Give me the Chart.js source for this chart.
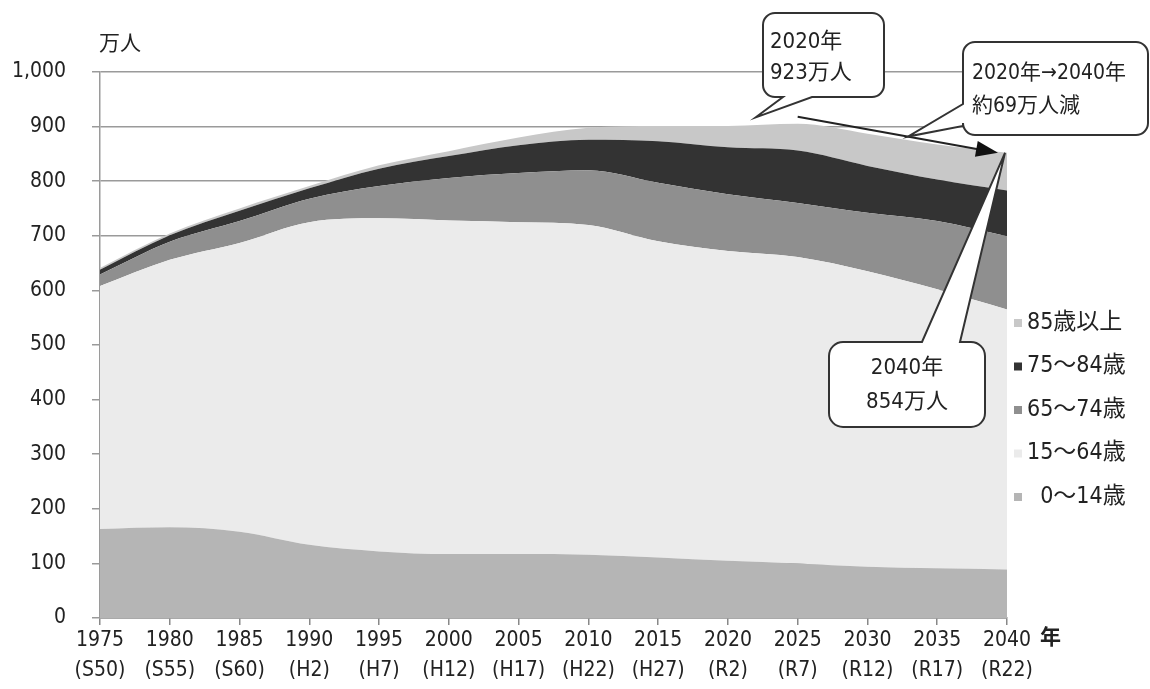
<!DOCTYPE html>
<html lang="ja">
<head>
<meta charset="utf-8">
<script src="https://cdn.jsdelivr.net/npm/chart.js@4.4.1/dist/chart.umd.min.js"></script>
<style>
html, body { margin: 0; padding: 0; background: #fff; }
#wrap { width: 1150px; height: 689px; }
</style>
</head>
<body>
<div id="wrap"><canvas id="chart" width="1150" height="689"></canvas></div>
<script>
// Data (万人)
const years = ['1975', '1980', '1985', '1990', '1995', '2000', '2005', '2010', '2015', '2020', '2025', '2030', '2035', '2040'];
const eras = ['(S50)', '(S55)', '(S60)', '(H2)', '(H7)', '(H12)', '(H17)', '(H22)', '(H27)', '(R2)', '(R7)', '(R12)', '(R17)', '(R22)'];
const age0to14 = [163, 166, 158, 134, 122, 117, 117, 116, 111, 105, 100, 94, 91, 89];
const age15to64 = [445, 490, 529, 591, 610, 611, 608, 604, 579, 567, 561, 541, 511, 476];
const age65to74 = [21, 33, 40, 43, 59, 78, 90, 100, 107, 104, 99, 107, 125, 134];
const age75to84 = [9, 12, 19, 19, 32, 40, 51, 56, 76, 86, 96, 86, 76, 84];
const age85plus = [3, 3, 4, 4, 6, 9, 14, 22, 28, 39, 49, 59, 64, 69];

const seriesNames = ['  0～14歳', '15～64歳', '65～74歳', '75～84歳', '85歳以上'];
const seriesValues = [age0to14, age15to64, age65to74, age75to84, age85plus];
const seriesColors = ['#b5b5b5', '#ebebeb', '#8f8f8f', '#333333', '#c8c8c8'];

const yMin = 0, yMax = 1000, yStep = 100;

const FONT = '"Liberation Sans Narrow", "DejaVu Sans Condensed", "Noto Sans CJK JP", sans-serif';

// totals for anchoring the callouts
const totals = years.map((_, i) => seriesValues.reduce((s, arr) => s + arr[i], 0));

const datasets = seriesValues.map((vals, i) => ({
    label: seriesNames[i],
    data: vals,
    backgroundColor: seriesColors[i],
    borderWidth: 0,
    pointRadius: 0,
    fill: i === 0 ? 'origin' : '-1',
    cubicInterpolationMode: 'monotone'
}));

// rounded box with a pointed tail on one side
function calloutPath(ctx, b, t) {
    const { x, y, w, h, r } = b;
    ctx.beginPath();
    ctx.moveTo(x + r, y);
    if (t.side === 'top') {
        ctx.lineTo(t.a, y); ctx.lineTo(t.tip.x, t.tip.y); ctx.lineTo(t.b, y);
    }
    ctx.lineTo(x + w - r, y);
    ctx.arcTo(x + w, y, x + w, y + r, r);
    ctx.lineTo(x + w, y + h - r);
    ctx.arcTo(x + w, y + h, x + w - r, y + h, r);
    if (t.side === 'bottom') {
        ctx.lineTo(t.b, y + h); ctx.lineTo(t.tip.x, t.tip.y); ctx.lineTo(t.a, y + h);
    }
    ctx.lineTo(x + r, y + h);
    ctx.arcTo(x, y + h, x, y + h - r, r);
    if (t.side === 'left') {
        ctx.lineTo(x, t.b); ctx.lineTo(t.tip.x, t.tip.y); ctx.lineTo(x, t.a);
    }
    ctx.lineTo(x, y + r);
    ctx.arcTo(x, y, x + r, y, r);
    ctx.closePath();
    ctx.fillStyle = '#fff';
    ctx.fill();
    ctx.lineWidth = 2;
    ctx.strokeStyle = '#333';
    ctx.stroke();
}

function drawLines(ctx, lines, x, y, gap, align) {
    ctx.textAlign = align;
    lines.forEach((s, i) => ctx.fillText(s, x, y + i * gap));
}

const overlay = {
    id: 'overlay',
    afterDraw(chart) {
        const { ctx, scales: { x, y } } = chart;
        const last = years.length - 1;
        ctx.save();
        ctx.fillStyle = '#222';
        ctx.textBaseline = 'middle';

        // unit labels
        ctx.font = '21px ' + FONT;
        ctx.textAlign = 'left';
        ctx.fillText('万人', 99, 45);
        ctx.font = 'bold 21px ' + FONT;
        ctx.fillText('年', 1040, 639);

        // legend (top = last series)
        ctx.font = '23px ' + FONT;
        for (let i = seriesNames.length - 1, row = 0; i >= 0; i--, row++) {
            const cy = 323 + row * 43.5;
            ctx.fillStyle = seriesColors[i];
            ctx.fillRect(1014, cy - 4, 8, 8);
            ctx.fillStyle = '#222';
            ctx.textAlign = 'left';
            ctx.fillText(seriesNames[i], 1027, cy);
        }

        // decrease arrow 2025 -> 2040
        const p0 = { x: x.getPixelForValue(10), y: y.getPixelForValue(totals[10] + 13) };
        const p1 = { x: x.getPixelForValue(last) - 9, y: y.getPixelForValue(totals[last]) };
        const ang = Math.atan2(p1.y - p0.y, p1.x - p0.x);
        ctx.strokeStyle = '#222';
        ctx.lineWidth = 2;
        ctx.beginPath();
        ctx.moveTo(p0.x, p0.y);
        ctx.lineTo(p1.x - 16 * Math.cos(ang), p1.y - 16 * Math.sin(ang));
        ctx.stroke();
        ctx.fillStyle = '#111';
        ctx.beginPath();
        ctx.moveTo(p1.x, p1.y);
        ctx.lineTo(p1.x - 22 * Math.cos(ang) + 8 * Math.sin(ang), p1.y - 22 * Math.sin(ang) - 8 * Math.cos(ang));
        ctx.lineTo(p1.x - 22 * Math.cos(ang) - 8 * Math.sin(ang), p1.y - 22 * Math.sin(ang) + 8 * Math.cos(ang));
        ctx.closePath();
        ctx.fill();

        // callout: 2020
        calloutPath(ctx, { x: 763, y: 13, w: 121, h: 84, r: 12 },
            { side: 'bottom', a: 783, b: 812, tip: { x: x.getPixelForValue(9.4), y: y.getPixelForValue(totals[9] + 16) } });
        ctx.fillStyle = '#222';
        ctx.font = '22px ' + FONT;
        drawLines(ctx, ['2020年', '923万人'], 770, 42, 31, 'left');

        // callout: change
        const tip2 = { x: p0.x + (p1.x - p0.x) * 0.55, y: p0.y + (p1.y - p0.y) * 0.55 };
        calloutPath(ctx, { x: 963, y: 42, w: 185, h: 93, r: 12 },
            { side: 'left', a: 104, b: 126, tip: tip2 });
        ctx.fillStyle = '#222';
        ctx.font = '21px ' + FONT;
        drawLines(ctx, ['2020年→2040年', '約69万人減'], 972, 74, 33, 'left');

        // callout: 2040
        calloutPath(ctx, { x: 829, y: 342, w: 156, h: 85, r: 14 },
            { side: 'top', a: 922, b: 960, tip: { x: x.getPixelForValue(last) - 2, y: y.getPixelForValue(totals[last]) } });
        ctx.fillStyle = '#222';
        ctx.font = '22px ' + FONT;
        drawLines(ctx, ['2040年', '854万人'], 907, 368, 34, 'center');

        ctx.restore();
    }
};

new Chart(document.getElementById('chart'), {
    type: 'line',
    data: {
        labels: years.map((yr, i) => [yr, eras[i]]),
        datasets: datasets
    },
    options: {
        responsive: false,
        animation: false,
        devicePixelRatio: 1,
        layout: { padding: { left: 0, right: 143, top: 72, bottom: 0 } },
        plugins: {
            legend: { display: false },
            tooltip: { enabled: false }
        },
        scales: {
            x: {
                offset: false,
                grid: { drawOnChartArea: false, drawTicks: true, tickLength: 7, color: '#888', lineWidth: 1.5 },
                border: { display: true, color: '#888', width: 1.5 },
                ticks: {
                    color: '#222',
                    autoSkip: false,
                    maxRotation: 0,
                    padding: 1,
                    font: { family: FONT, size: 21, lineHeight: 1.4 }
                },
                afterFit(scale) { scale.height = 71; }
            },
            y: {
                stacked: true,
                min: yMin,
                max: yMax,
                grid: { color: '#9a9a9a', lineWidth: 1.5, tickLength: 8 },
                border: { display: true, color: '#9a9a9a', width: 1.5 },
                ticks: {
                    stepSize: yStep,
                    color: '#222',
                    padding: 26,
                    font: { family: FONT, size: 21 },
                    callback: v => v.toLocaleString('en-US')
                },
                afterFit(scale) { scale.width = 100; }
            }
        }
    },
    plugins: [overlay]
});
</script>
</body>
</html>
